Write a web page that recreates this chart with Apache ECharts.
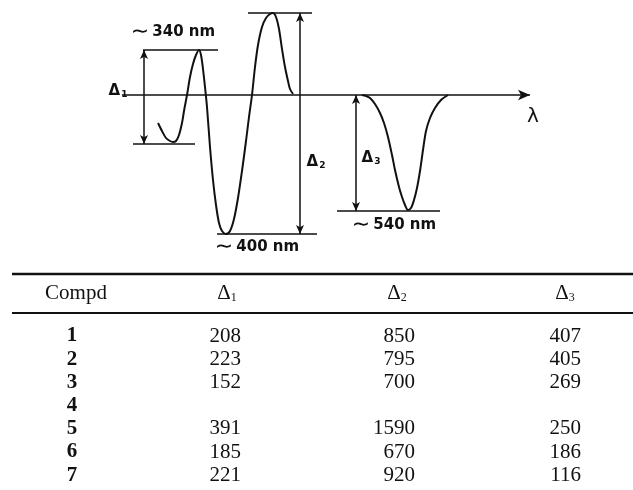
<!DOCTYPE html>
<html>
<head>
<meta charset="utf-8">
<script src="https://cdn.jsdelivr.net/npm/echarts@6/dist/echarts.min.js"></script>
<style>
  html, body { margin: 0; padding: 0; background: #fff; }
  #main { width: 633px; height: 490px; }
</style>
</head>
<body>
<div id="main"></div>
<script>
// schematic CD curve, arbitrary units (x ~ wavelength, y ~ signal)
var curveA = [[36,-28],[40,-36],[44,-43],[48,-46],[51,-47],[54,-46],[57,-40],[60,-28],[62,-16],[65,0],[68,18],[71,31],[74,40],[77,45],
  [79,40],[81,26],[83,8],[85,-12],[88,-52],[91,-85],[94,-110],[97,-128],[100,-136],[104,-139],[108,-136],[112,-124],[116,-103],[120,-76],[124,-46],[127,-22],
  [130,0],[133,28],[136,50],[140,68],[144,77],[148,81],[151,82],[154,78],[157,66],[160,46],[163,28],[166,14],[168,6],[171,1]];
var curveB = [[240,0],[244,-1],[248,-3],[253,-9],[258,-18],[262,-28],[266,-42],[270,-60],[273,-75],[277,-92],[280,-102],
  [283,-110],[286,-115],[289,-113],[292,-105],[295,-93],[298,-76],[301,-55],[304,-36],[308,-23],[313,-13],[319,-5],[326,0]];
var axisEnd = 408;

// table
var compds = ['1', '2', '3', '4', '5', '6', '7'];
var delta1 = [208, 223, 152, null, 391, 185, 221];
var delta2 = [850, 795, 700, null, 1590, 670, 920];
var delta3 = [407, 405, 269, null, 250, 186, 116];

var ink = '#111';
var sans = 'DejaVu Sans';
var serif = 'Liberation Serif';

function hline(x1, x2, y) {
  return [{ coord: [x1, y] }, { coord: [x2, y] }];
}
function dimArrow(x, y1, y2) {
  return [{ coord: [x, y1], symbol: 'arrow' }, { coord: [x, y2], symbol: 'arrow' }];
}
function tag(x, y, text, rich) {
  return {
    coord: [x, y],
    label: { show: true, position: 'inside', formatter: text, rich: rich }
  };
}

var deltaRich = {
  d: { fontFamily: sans, fontWeight: 'bold', fontSize: 15, color: ink },
  s: { fontFamily: sans, fontWeight: 'bold', fontSize: 9, color: ink, padding: [8, 0, 0, 1] }
};
var nmRich = {
  t: { fontFamily: sans, fontSize: 22, color: ink, padding: [0, 3, 0, 0] },
  n: { fontFamily: sans, fontWeight: 'bold', fontSize: 15, color: ink }
};

var chart = echarts.init(document.getElementById('main'));

var graphics = [];
graphics.push({ type: 'line', shape: { x1: 12, y1: 274, x2: 633, y2: 274 }, style: { stroke: ink, lineWidth: 2.5 } });
graphics.push({ type: 'line', shape: { x1: 12, y1: 313, x2: 633, y2: 313 }, style: { stroke: ink, lineWidth: 1.8 } });
graphics.push({ type: 'text', style: { text: 'Compd', x: 76, y: 293, font: '21px "' + serif + '"', fill: ink, align: 'center', verticalAlign: 'middle' } });
var headX = [227, 397, 565];
for (var h = 0; h < 3; h++) {
  graphics.push({
    type: 'text',
    style: {
      text: '{d|Δ}{s|' + (h + 1) + '}', x: headX[h], y: 293, align: 'center', verticalAlign: 'middle',
      rich: {
        d: { font: '21px "' + serif + '"', fill: ink },
        s: { font: '12px "' + serif + '"', fill: ink, padding: [9, 0, 0, 0] }
      }
    }
  });
}
var colRight = [241, 415, 581];
var cols = [delta1, delta2, delta3];
for (var i = 0; i < compds.length; i++) {
  var y = 336 + i * 23.2;
  graphics.push({ type: 'text', style: { text: compds[i], x: 72, y: y, font: 'bold 21px "' + serif + '"', fill: ink, align: 'center', verticalAlign: 'middle' } });
  for (var c = 0; c < 3; c++) {
    if (cols[c][i] == null) continue;
    graphics.push({ type: 'text', style: { text: String(cols[c][i]), x: colRight[c], y: y, font: '21px "' + serif + '"', fill: ink, align: 'right', verticalAlign: 'middle' } });
  }
}

var option = {
  backgroundColor: '#ffffff',
  animation: false,
  grid: { left: 100, right: 60, top: 5, bottom: 228 },
  xAxis: { type: 'value', min: -22, max: 451, show: false },
  yAxis: { type: 'value', min: -167, max: 90, show: false },
  graphic: graphics,
  series: [
    {
      type: 'line',
      data: curveA,
      smooth: 0.3,
      showSymbol: false,
      silent: true,
      lineStyle: { color: ink, width: 2 },
      markLine: {
        silent: true,
        symbol: 'none',
        symbolSize: [6, 9],
        label: { show: false },
        lineStyle: { color: ink, width: 1.5, type: 'solid' },
        data: [
          [{ coord: [0, 0] }, { coord: [axisEnd, 0], symbol: 'arrow', symbolSize: [8, 12] }],
          hline(21, 96, 45),
          hline(11, 73, -49),
          hline(126, 190, 82),
          hline(95, 195, -139),
          hline(215, 318, -116),
          dimArrow(22, 45, -49),
          dimArrow(178, 82, -139),
          dimArrow(234, 0, -116)
        ]
      },
      markPoint: {
        silent: true,
        symbol: 'circle',
        symbolSize: 1,
        itemStyle: { color: 'transparent' },
        data: [
          tag(-4, 4, '{d|Δ}{s|1}', deltaRich),
          tag(194, -67, '{d|Δ}{s|2}', deltaRich),
          tag(249, -63, '{d|Δ}{s|3}', deltaRich),
          tag(51, 63, '{t|∼}{n|340 nm}', nmRich),
          tag(135, -152, '{t|∼}{n|400 nm}', nmRich),
          tag(272, -130, '{t|∼}{n|540 nm}', nmRich),
          tag(411, -22, '{l|λ}', { l: { fontFamily: sans, fontSize: 20, color: ink } })
        ]
      }
    },
    {
      type: 'line',
      data: curveB,
      smooth: 0.3,
      showSymbol: false,
      silent: true,
      lineStyle: { color: ink, width: 2 }
    }
  ]
};
chart.setOption(option);
</script>
</body>
</html>
